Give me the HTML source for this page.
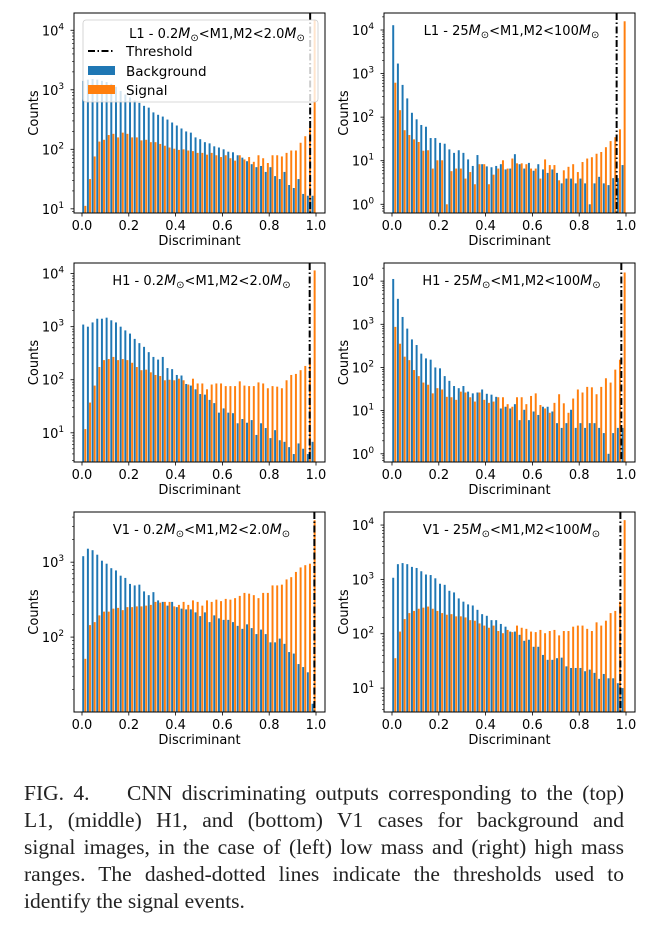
<!DOCTYPE html>
<html><head><meta charset="utf-8">
<style>
body{margin:0;background:#fff;width:646px;height:932px;overflow:hidden;position:relative}
#cap{position:absolute;left:24px;top:780px;width:600px;font-family:"Liberation Serif",serif;font-size:21.5px;line-height:27px;color:#222}
#cap div{text-align:justify;text-align-last:justify;white-space:nowrap}
#cap div.last{text-align-last:left}
</style></head>
<body>
<svg id="fig" width="646" height="770" style="position:absolute;left:0;top:0" xmlns="http://www.w3.org/2000/svg"></svg>
<div id="cap">
<div style="white-space:pre">FIG. 4.    CNN discriminating outputs corresponding to the (top)</div>
<div>L1, (middle) H1, and (bottom) V1 cases for background and</div>
<div>signal images, in the case of (left) low mass and (right) high mass</div>
<div>ranges. The dashed-dotted lines indicate the thresholds used to</div>
<div class="last">identify the signal events.</div>
</div>
<script>
// log10 of counts per bin (50 bins of width 0.02)
const l1LowBg=[3.15,3.17,3.18,3.17,3.15,3.13,3.1,3.05,2.98,2.92,2.87,2.82,2.78,2.73,2.70,2.62,2.58,2.55,2.50,2.45,2.40,2.35,2.30,2.28,2.20,2.17,2.12,2.10,2.05,2.03,2.00,1.96,1.95,1.90,1.86,1.80,1.75,1.70,1.72,1.62,1.70,1.55,1.50,1.62,1.40,1.35,1.50,1.25,1.22,1.22];
const l1LowSig=[1.05,1.5,1.88,2.13,2.16,2.24,2.26,2.2,2.28,2.26,2.2,2.2,2.15,2.16,2.12,2.12,2.09,2.06,2.03,2.01,1.99,2.0,1.98,1.97,1.94,1.94,1.91,1.94,1.9,1.87,1.9,1.85,1.81,1.9,1.83,1.87,1.79,1.9,1.85,1.77,1.9,1.9,1.88,1.94,1.98,1.98,2.11,2.22,2.36,4.17];
const l1HighBg=[4.11,3.23,2.74,2.43,2.1,1.95,1.82,1.78,1.52,1.52,1.41,1.39,1.26,1.18,1.24,1.18,1.03,0.88,1.13,0.92,0.87,0.85,0.88,0.92,0.8,0.82,1.15,0.92,0.82,0.95,0.77,0.92,0.8,0.72,0.8,0.72,0.48,0.59,0.59,0.48,0.59,0.48,0,0.48,0.63,0.48,0.44,0.6,0.6,0.9];
const l1HighSig=[2.79,2.16,1.7,1.59,1.49,1.43,1.23,1.24,0.82,1.01,1.01,0,0.76,0.82,0.82,0.59,0.74,0.46,0.92,0.92,0.46,0.68,0.82,1.01,0.82,1.05,0.94,0.94,0.92,0.82,0.82,0.59,1.03,0.9,0.9,0.55,0.78,0.86,0.92,0.74,0.97,1.05,1.08,1.16,1.2,1.31,1.45,1.54,1.72,4.2];
const h1LowBg=[3.04,3.0,3.08,3.15,3.15,3.17,3.12,3.08,3.0,2.93,2.87,2.77,2.69,2.62,2.52,2.43,2.38,2.43,2.22,2.2,2.09,2.08,1.92,1.89,1.82,1.73,1.72,1.62,1.56,1.38,1.46,1.38,1.37,1.18,1.26,1.19,1.24,0.96,1.18,1.09,0.9,1.05,0.86,0.83,0.73,0.6,0.8,0.7,0.6,0.83];
const h1LowSig=[1.07,1.57,1.89,2.24,2.37,2.39,2.43,2.37,2.39,2.37,2.32,2.24,2.18,2.19,2.14,2.09,2.07,1.99,2.0,1.99,2.02,1.99,1.91,2.02,1.93,1.93,1.82,1.91,1.93,1.93,1.88,1.88,1.88,1.97,1.89,1.88,1.88,1.95,1.93,1.84,1.88,1.87,1.84,1.99,2.09,2.11,2.18,2.26,2.41,4.06];
const h1HighBg=[4.05,3.59,3.17,2.9,2.65,2.52,2.32,2.21,2.18,2.0,1.98,1.8,1.69,1.57,1.52,1.57,1.44,1.4,1.42,1.49,1.39,1.37,1.32,1.05,1.09,1.05,1.15,0.78,1.02,0.78,0.98,0.9,1.09,1.09,0.98,0.71,0.6,0.71,1.02,0.6,0.71,0.6,0.71,0.71,0.6,0.48,0,0.48,0.6,0.6];
const h1HighSig=[2.94,2.55,2.25,2.17,1.94,1.8,1.65,1.6,1.4,1.52,1.49,1.32,1.31,1.25,1.44,1.42,1.31,1.21,1.42,1.25,1.18,1.21,1.31,1.31,1.15,1.09,1.31,1.31,1.15,1.34,1.4,1.13,1.05,0.95,1.18,1.38,1.17,0.95,1.28,1.49,1.42,1.55,1.54,1.38,1.55,1.75,1.65,1.95,2.18,4.2];
const v1LowBg=[3.08,3.18,3.16,3.1,3.02,2.98,2.92,2.89,2.82,2.79,2.71,2.69,2.7,2.61,2.56,2.6,2.49,2.47,2.42,2.47,2.4,2.38,2.37,2.37,2.33,2.28,2.33,2.2,2.29,2.25,2.23,2.23,2.2,2.15,2.11,2.17,2.12,2.04,2.1,2.04,1.93,1.93,1.98,1.91,1.8,1.78,1.64,1.6,1.53,1.11];
const v1LowSig=[1.71,2.16,2.2,2.29,2.34,2.34,2.38,2.39,2.36,2.4,2.4,2.41,2.41,2.42,2.43,2.47,2.46,2.47,2.47,2.41,2.43,2.47,2.43,2.49,2.47,2.42,2.49,2.47,2.5,2.48,2.51,2.5,2.52,2.55,2.59,2.58,2.56,2.52,2.59,2.59,2.69,2.69,2.7,2.77,2.8,2.87,2.93,2.96,2.98,3.56];
const v1HighBg=[3.03,3.28,3.3,3.28,3.23,3.21,3.15,3.09,3.08,3.02,2.92,2.9,2.79,2.76,2.65,2.59,2.54,2.52,2.44,2.36,2.33,2.25,2.25,2.18,2.13,2.04,2.04,1.98,1.87,1.89,1.76,1.76,1.61,1.52,1.52,1.55,1.56,1.4,1.37,1.37,1.37,1.31,1.34,1.28,1.17,1.26,1.18,1.18,1.09,1.0];
const v1HighSig=[1.55,2.04,2.27,2.38,2.42,2.46,2.48,2.5,2.46,2.42,2.38,2.35,2.36,2.32,2.32,2.3,2.25,2.24,2.19,2.15,2.11,2.15,2.05,2.01,2.07,2.03,2.15,2.11,2.09,2.04,2.03,2.07,2.01,2.05,2.07,1.97,2.05,2.05,2.13,2.15,2.15,2.09,2.05,2.21,2.15,2.24,2.38,2.42,2.59,4.09];
const xTicks=[0,0.2,0.4,0.6,0.8,1.0];
const xTickLabels=["0.0","0.2","0.4","0.6","0.8","1.0"];
const thresholds=[0.975,0.96,0.973,0.98,0.993,0.976];
const detectors=["L1","L1","H1","H1","V1","V1"];
const massRanges=[["0.2","2.0"],["25","100"],["0.2","2.0"],["25","100"],["0.2","2.0"],["25","100"]];

const NS="http://www.w3.org/2000/svg";
const svg=document.getElementById('fig');
function mk(tag,attrs,parent){const e=document.createElementNS(NS,tag);for(const k in attrs)e.setAttribute(k,attrs[k]);(parent||svg).appendChild(e);return e;}
const F='"DejaVu Sans","Liberation Sans",sans-serif';
const panels=[
 {bg:l1LowBg,sig:l1LowSig,L:74,R:325,T:13,B:213,x0:82,x1:316,ymin:0.93,ymax:4.29,yt:[1,2,3,4],legend:true},
 {bg:l1HighBg,sig:l1HighSig,L:384,R:635,T:13,B:213,x0:392,x1:626,ymin:-0.2,ymax:4.39,yt:[0,1,2,3,4]},
 {bg:h1LowBg,sig:h1LowSig,L:74,R:325,T:263,B:462,x0:82,x1:316,ymin:0.45,ymax:4.2,yt:[1,2,3,4]},
 {bg:h1HighBg,sig:h1HighSig,L:384,R:635,T:263,B:462,x0:392,x1:626,ymin:-0.19,ymax:4.42,yt:[0,1,2,3,4]},
 {bg:v1LowBg,sig:v1LowSig,L:74,R:325,T:512,B:712,x0:82,x1:316,ymin:1.0,ymax:3.67,yt:[2,3]},
 {bg:v1HighBg,sig:v1HighSig,L:384,R:635,T:512,B:712,x0:392,x1:626,ymin:0.56,ymax:4.24,yt:[1,2,3,4]}
];
function titleText(t,i){
  const r=massRanges[i];
  t.appendChild(document.createTextNode(detectors[i]+" - "+r[0]));
  let s=mk('tspan',{'font-style':'italic','font-size':'14'},t);s.textContent="M";
  s=mk('tspan',{'font-size':'10','dy':'3'},t);s.textContent="\u2299";
  s=mk('tspan',{'dy':'-3'},t);s.textContent="<M1,M2<"+r[1];
  s=mk('tspan',{'font-style':'italic','font-size':'14'},t);s.textContent="M";
  s=mk('tspan',{'font-size':'10','dy':'3'},t);s.textContent="\u2299";
}
panels.forEach((p,i)=>{
  const g=mk('g',{});
  
  
  const xs=v=>p.x0+(p.x1-p.x0)*v;
  const ys=v=>p.B-(p.B-p.T)*(v-p.ymin)/(p.ymax-p.ymin);
  const cid='clip'+i;
  const cp=mk('clipPath',{id:cid},g);mk('rect',{x:p.L,y:p.T,width:p.R-p.L,height:p.B-p.T},cp);
  const bars=mk('g',{'clip-path':'url(#'+cid+')'},g);
  const bw=0.02;
  [[p.bg,'#1f77b4',0.05,'background-bar'],[p.sig,'#ff7f0e',0.5,'signal-bar']].forEach(([arr,col,off,nm])=>{
    arr.forEach((v,k)=>{
      const xa=xs(k*bw+off*bw), xb=xs(k*bw+(off+0.42)*bw);
      const y=ys(v);
      const r=mk('rect',{x:xa.toFixed(2),y:y.toFixed(2),width:(xb-xa).toFixed(2),height:Math.max(0,p.B-y).toFixed(2),fill:col},bars);
      
      
    });
  });
  const tx=xs(thresholds[i]);
  const th=mk('line',{x1:tx,x2:tx,y1:p.T,y2:p.B,stroke:'#000','stroke-width':2,'stroke-dasharray':'7,2.5,1.5,2.5'},g);
  
  
  const fr=mk('rect',{x:p.L,y:p.T,width:p.R-p.L,height:p.B-p.T,fill:'none',stroke:'#000','stroke-width':1},g);
  
  
  xTicks.forEach((v,k)=>{
    const x=xs(v);
    mk('line',{x1:x,x2:x,y1:p.B,y2:p.B+3.5,stroke:'#000','stroke-width':0.8},g);
    const t=mk('text',{x:x,y:p.B+17,'text-anchor':'middle','font-size':'13','font-family':F},g);
    t.textContent=xTickLabels[k];
    
    
  });
  for(let d=Math.floor(p.ymin);d<=Math.ceil(p.ymax);d++){
    for(let m=2;m<10;m++){const lv=d+Math.log10(m);if(lv>p.ymin&&lv<p.ymax){const y=ys(lv);mk('line',{x1:p.L-2,x2:p.L,y1:y,y2:y,stroke:'#000','stroke-width':0.6},g);}}
  }
  p.yt.forEach(v=>{
    const y=ys(v);
    mk('line',{x1:p.L-3.5,x2:p.L,y1:y,y2:y,stroke:'#000','stroke-width':0.8},g);
    const t=mk('text',{x:p.L-21,y:y+5,'text-anchor':'middle','font-size':'13','font-family':F},g);
    t.textContent="10";
    
    
    const s=mk('tspan',{'font-size':'9','dy':'-6'},t);s.textContent=String(v);
  });
  const xl=mk('text',{x:(p.L+p.R)/2,y:p.B+32,'text-anchor':'middle','font-size':'13','font-family':F},g);
  xl.textContent="Discriminant";
  
  
  const yx=p.L-36, yy=(p.T+p.B)/2;
  const yl=mk('text',{x:yx,y:yy,'text-anchor':'middle','font-size':'13','font-family':F,transform:'rotate(-90 '+yx+' '+yy+')'},g);
  yl.textContent="Counts";
  
  
  if(p.legend){
    const lg=mk('g',{},g);
    
    
    mk('rect',{x:83,y:20,width:235,height:82,rx:3,fill:'#fff','fill-opacity':0.8,stroke:'#ccc','stroke-width':0.8},lg);
    const t=mk('text',{x:217,y:38,'text-anchor':'middle','font-size':'13','font-family':F},lg);titleText(t,i);
    
    
    mk('line',{x1:88,x2:115,y1:51,y2:51,stroke:'#000','stroke-width':2,'stroke-dasharray':'7,2.5,1.5,2.5'},lg);
    mk('rect',{x:88,y:66,width:27,height:9,fill:'#1f77b4'},lg);
    mk('rect',{x:88,y:85,width:27,height:9,fill:'#ff7f0e'},lg);
    [["Threshold",56],["Background",76],["Signal",95]].forEach(([s,y])=>{
      const e=mk('text',{x:126,y:y,'font-size':'13.5','font-family':F},lg);e.textContent=s;
      
      
    });
  } else {
    const t=mk('text',{x:(p.L+p.R)/2+2,y:p.T+22,'text-anchor':'middle','font-size':'13','font-family':F},g);titleText(t,i);
    
    
  }
});
</script>
</body></html>
